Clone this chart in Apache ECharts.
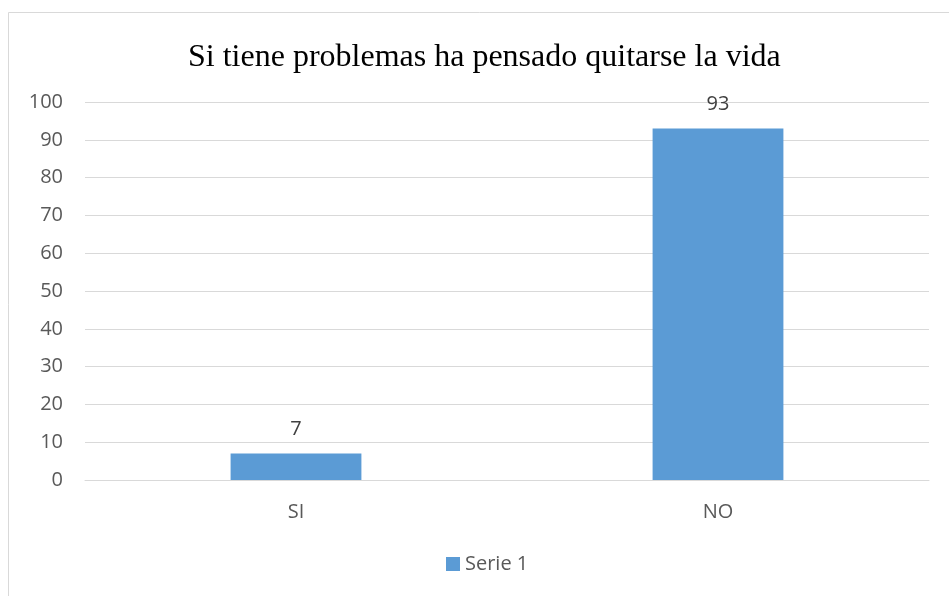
<!DOCTYPE html>
<html>
<head>
<meta charset="utf-8">
<script src="https://cdn.jsdelivr.net/npm/echarts@6/dist/echarts.min.js"></script>
<style>
  html, body { margin: 0; padding: 0; background: #fff; }
  #chart { width: 949px; height: 596px; }
</style>
</head>
<body>
<div id="chart"></div>
<script>
  // datos
  var categorias = ['SI', 'NO'];
  var serie1 = [7, 93];
  var ejeY = { min: 0, max: 100, interval: 10 };

  var chart = echarts.init(document.getElementById('chart'));
  var option = {
    animation: false,
    backgroundColor: '#fff',
    title: {
      text: 'Si tiene problemas ha pensado quitarse la vida',
      left: 183,
      top: 37,
      textStyle: {
        fontFamily: 'Liberation Serif',
        fontSize: 32,
        fontWeight: 'normal',
        color: '#000'
      }
    },
    graphic: [{
      type: 'rect',
      shape: { x: 8.5, y: 12.5, width: 960, height: 600 },
      style: { fill: 'none', stroke: '#d9d9d9', lineWidth: 1 },
      silent: true
    }],
    legend: {
      bottom: 17,
      left: 441,
      itemWidth: 14,
      itemHeight: 14,
      itemGap: 6,
      icon: 'rect',
      textStyle: { fontFamily: 'Open Sans', fontSize: 20, color: '#595959' },
      data: ['Serie 1']
    },
    grid: { left: 85, right: 20, top: 102, bottom: 116 },
    xAxis: {
      type: 'category',
      data: categorias,
      axisLine: { lineStyle: { color: '#d9d9d9' } },
      axisTick: { show: false },
      axisLabel: { fontFamily: 'Open Sans', fontSize: 20, color: '#595959', margin: 22 }
    },
    yAxis: {
      type: 'value',
      min: ejeY.min,
      max: ejeY.max,
      interval: ejeY.interval,
      axisLine: { show: false },
      axisTick: { show: false },
      splitLine: { lineStyle: { color: '#d9d9d9' } },
      axisLabel: { fontFamily: 'Open Sans', fontSize: 20, color: '#595959', margin: 22 }
    },
    series: [{
      name: 'Serie 1',
      type: 'bar',
      data: serie1,
      barWidth: '31%',
      itemStyle: { color: '#5b9bd5' },
      label: {
        show: true,
        position: 'top',
        distance: 14,
        fontFamily: 'Open Sans',
        fontSize: 20,
        color: '#404040'
      }
    }]
  };
  chart.setOption(option);
</script>
</body>
</html>
